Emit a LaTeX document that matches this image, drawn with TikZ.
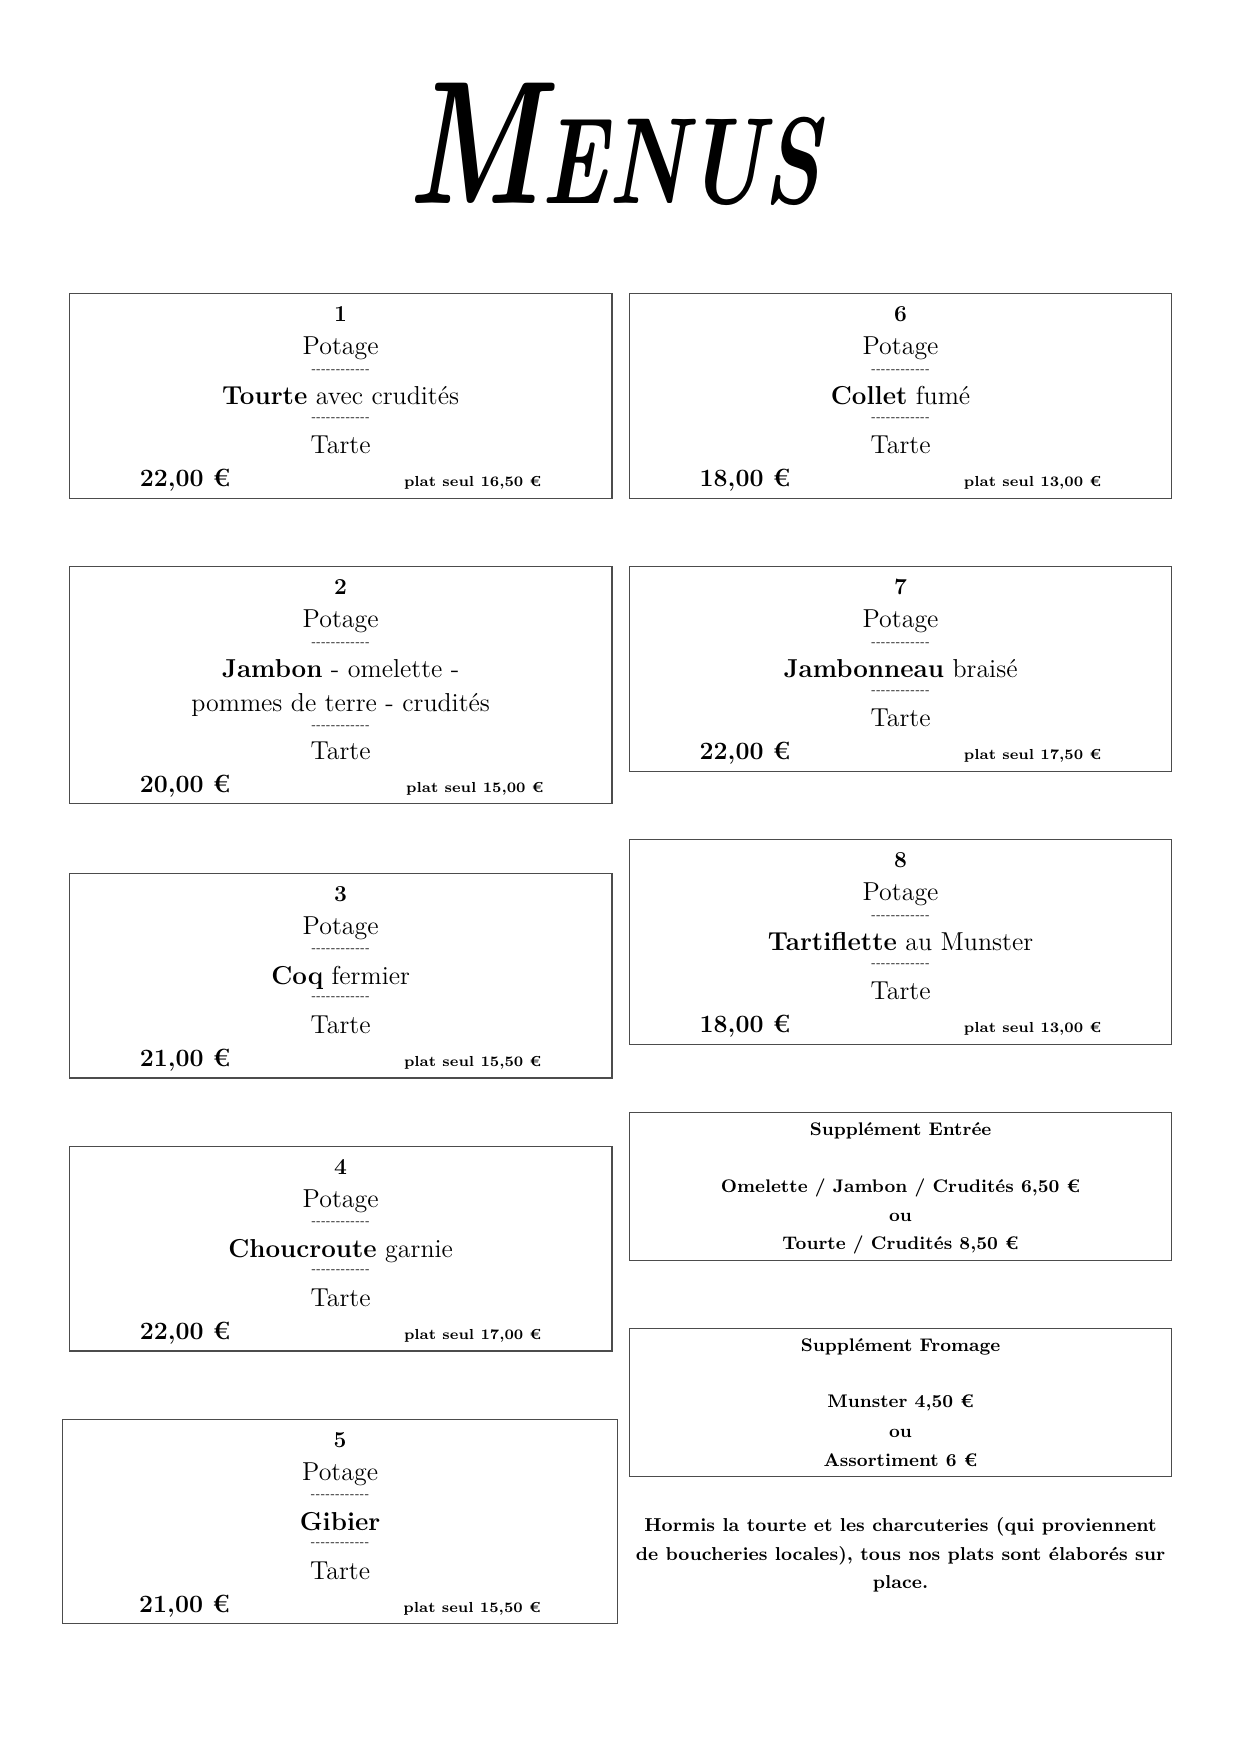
\documentclass[tikz,border=0pt]{standalone}
\usepackage{fontspec}
\usepackage{graphicx}
\newcommand{\pxu}{0.018953cm}
\newcommand{\tirets}{-{}-{}-{}-{}-{}-{}-{}-{}-{}-{}-{}-}

\begin{document}
\begin{tikzpicture}[x=\pxu,y=-\pxu,
				cadre/.style={draw=black!70,line width=0.6pt,anchor=north,minimum height=183*\pxu,inner sep=0pt},
				ligne/.style={anchor=base,inner sep=0pt,font=\fontsize{12.5}{15}\selectfont},
				numero/.style={anchor=base,inner sep=0pt,font=\fontsize{11}{13}\selectfont\bfseries},
				tiret/.style={inner sep=0pt,font=\fontsize{5}{6}\selectfont},
				prix/.style={anchor=base,inner sep=0pt,font=\fontsize{12}{14}\selectfont\bfseries},
				seul/.style={anchor=base,inner sep=0pt,font=\fontsize{7}{9}\selectfont\bfseries},
				supp/.style={anchor=base,inner sep=0pt,font=\fontsize{8.8}{11}\selectfont\bfseries}]
				\useasboundingbox (0,0) rectangle (1108,1567);
				%\draw[dashed] (0,0) rectangle (1108,1567);
				\node[anchor=base,inner sep=0pt] (titre) at (549,182)
				{\resizebox{199pt}{58pt}{\fontsize{60}{60}\selectfont\bfseries\itshape M\fontsize{42}{42}\selectfont ENUS}};
				
				% menus a une ligne
				\foreach \n/\cx/\ty/\w/\plat/\total/\seul in {1/304.5/262/485/{\textbf{Tourte} avec crudités}/{22,00}/{16,50},
					3/304.5/780/485/{\textbf{Coq} fermier}/{21,00}/{15,50},
					4/304.5/1024/485/{\textbf{Choucroute} garnie}/{22,00}/{17,00},
					5/304/1268/496/{\textbf{Gibier}}/{21,00}/{15,50},
					6/805/262/484/{\textbf{Collet} fumé}/{18,00}/{13,00},
					7/805/506/484/{\textbf{Jambonneau} braisé}/{22,00}/{17,50},
					8/805/750/484/{\textbf{Tartiflette} au Munster}/{18,00}/{13,00}}
				{\node[cadre,minimum width=\w*\pxu] (m\n) at (\cx,\ty) {};
					\node[numero] (m\n-num) at (\cx,\ty+25.5) {\n};
					\node[ligne] (m\n-soupe) at (\cx,\ty+55) {Potage};
					\node[tiret] (m\n-sepa) at (\cx,\ty+69.5) {\tirets};
					\node[ligne] (m\n-plat) at (\cx,\ty+100) {\plat};
					\node[tiret] (m\n-sepb) at (\cx,\ty+112.5) {\tirets};
					\node[ligne] (m\n-dessert) at (\cx,\ty+143.5) {Tarte};
					\node[prix] (m\n-prix) at (\cx-139,\ty+173) {\total~€};
					\node[seul] (m\n-seul) at (\cx+118,\ty+173) {plat seul \seul~€};}
				
				% menu 2, plat sur deux lignes
				\node[cadre,minimum width=485*\pxu,minimum height=212*\pxu] (m2) at (304.5,506) {};
				\node[numero] (m2-num) at (304.5,531.5) {2};
				\node[ligne] (m2-soupe) at (304.5,561) {Potage};
				\node[tiret] (m2-sepa) at (304.5,575.5) {\tirets};
				\node[ligne] (m2-plat) at (304.5,606) {\textbf{Jambon} - omelette -};
				\node[ligne] (m2-platb) at (304.5,636) {pommes de terre - crudités};
				\node[tiret] (m2-sepb) at (304.5,650) {\tirets};
				\node[ligne] (m2-dessert) at (304.5,678.5) {Tarte};
				\node[prix] (m2-prix) at (165.5,708) {20,00~€};
				\node[seul] (m2-seul) at (424.5,708) {plat seul 15,00~€};
				
				% supplements
				\node[cadre,minimum width=485*\pxu,minimum height=132*\pxu] (suppE) at (805,994) {};
				\node[supp] (suppE-titre) at (805,1015) {Supplément Entrée};
				\node[supp] (suppE-a) at (805,1066) {Omelette / Jambon / Crudités 6,50~€};
				\node[supp] (suppE-ou) at (805,1092) {ou};
				\node[supp] (suppE-b) at (805,1117) {Tourte / Crudités 8,50~€};
				
				\node[cadre,minimum width=485*\pxu,minimum height=132*\pxu] (suppF) at (805,1187) {};
				\node[supp] (suppF-titre) at (805,1208) {Supplément Fromage};
				\node[supp] (suppF-a) at (805,1258) {Munster 4,50~€};
				\node[supp] (suppF-ou) at (805,1285) {ou};
				\node[supp] (suppF-b) at (805,1311) {Assortiment 6~€};
				
				\node[anchor=north,align=center,inner sep=0pt,font=\fontsize{9}{13.8}\selectfont\bfseries] (remarque) at (805,1356)
				{Hormis la tourte et les charcuteries (qui proviennent\\de boucheries locales), tous nos plats sont élaborés sur\\place.};
\end{tikzpicture}
\end{document}
